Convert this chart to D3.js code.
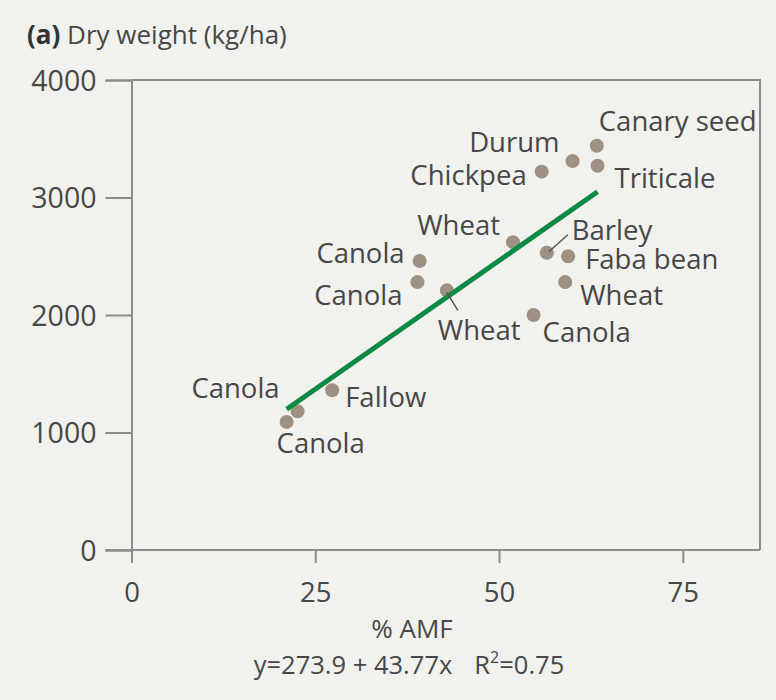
<!DOCTYPE html>
<html>
<head>
<meta charset="utf-8">
<script src="https://cdn.jsdelivr.net/npm/d3@7"></script>
<style>
  html, body { margin: 0; padding: 0; background: #f1f1ed; }
  svg { display: block; }
  text { font-family: "Open Sans", sans-serif; fill: #474747; }
</style>
</head>
<body>
<svg id="chart" width="776" height="700"></svg>
<script>
// Crop data: % AMF colonisation vs. dry weight
const crops   = ["Canary seed", "Triticale", "Durum", "Chickpea", "Wheat", "Barley",
                 "Faba bean", "Wheat", "Canola", "Canola", "Canola", "Wheat",
                 "Fallow", "Canola", "Canola"];
const amf     = [63.3, 63.4, 60.0, 55.8, 51.9, 56.5, 59.4, 59.0, 54.7, 39.2, 38.9, 42.9, 27.3, 21.1, 22.6];
const dryWt   = [3440, 3270, 3310, 3220, 2620, 2530, 2500, 2280, 2000, 2460, 2280, 2210, 1360, 1090, 1180];

const xTicks  = [0, 25, 50, 75];
const yTicks  = [0, 1000, 2000, 3000, 4000];

// Fitted regression
const intercept = 273.9;
const slope     = 43.77;
const r2        = 0.75;

// Label placement for each point: [dx, dy, anchor, leader]
const labelPlacement = [
  [2, -15, "start"], [17, 22, "start"], [-13, -9, "end"], [-15, 13, "end"],
  [-13, -7, "end"], [25, -13, "start", [2, -1, 21, -18]], [17, 13, "start"],
  [15, 23, "start"], [9, 27, "start"], [-15, 2, "end"], [-15, 23, "end"],
  [-9, 50, "start", [0, 2, 11, 20]], [13, 17, "start"], [-10, 31, "start"],
  [-18, -13, "end"]
];

const svg = d3.select("#chart");
const x = d3.scaleLinear().domain([0, 85.5]).range([131.5, 760]);
const y = d3.scaleLinear().domain([0, 4000]).range([550, 80]);

const axisColor = "#8c8c8c";

// frame (top and right)
svg.append("path")
  .attr("d", `M${x(0)},${y(4000)}H${x(85.5)}V${y(0)}`)
  .attr("fill", "none").attr("stroke", axisColor).attr("stroke-width", 2);

// y axis
const yAxis = svg.append("g").attr("transform", `translate(${x(0)},0)`)
  .call(d3.axisLeft(y).tickValues(yTicks).tickSize(26).tickPadding(9).tickFormat(d3.format("d")));
yAxis.select(".domain").attr("stroke", axisColor).attr("stroke-width", 2);
yAxis.selectAll(".tick line").attr("stroke", axisColor).attr("stroke-width", 2);
yAxis.selectAll(".tick text").attr("font-size", 28.5).attr("font-family", "Open Sans")
  .attr("fill", "#4d4d4d").attr("dy", "0.36em");

// x axis
const xAxis = svg.append("g").attr("transform", `translate(0,${y(0)})`)
  .call(d3.axisBottom(x).tickValues(xTicks).tickSize(13).tickPadding(19).tickFormat(d3.format("d")));
xAxis.select(".domain").remove();
xAxis.append("line").attr("x1", x(0) - 26).attr("x2", x(85.5))
  .attr("stroke", axisColor).attr("stroke-width", 2);
xAxis.selectAll(".tick line").attr("stroke", axisColor).attr("stroke-width", 2);
xAxis.selectAll(".tick text").attr("font-size", 27.5).attr("font-family", "Open Sans")
  .attr("fill", "#4d4d4d");

// points
const pts = amf.map((a, i) => ({ x: a, y: dryWt[i], name: crops[i], p: labelPlacement[i] }));
svg.append("g").selectAll("circle").data(pts).join("circle")
  .attr("cx", d => x(d.x)).attr("cy", d => y(d.y)).attr("r", 7)
  .attr("fill", "#9e9181");

// regression line across the observed range
const [xMin, xMax] = d3.extent(amf);
svg.append("line")
  .attr("x1", x(xMin)).attr("y1", y(intercept + slope * xMin))
  .attr("x2", x(xMax)).attr("y2", y(intercept + slope * xMax))
  .attr("stroke", "#0e8a45").attr("stroke-width", 5);

// leader lines
svg.append("g").selectAll("line").data(pts.filter(d => d.p[3])).join("line")
  .attr("x1", d => x(d.x) + d.p[3][0]).attr("y1", d => y(d.y) + d.p[3][1])
  .attr("x2", d => x(d.x) + d.p[3][2]).attr("y2", d => y(d.y) + d.p[3][3])
  .attr("stroke", "#555").attr("stroke-width", 1.5);

// point labels
svg.append("g").selectAll("text").data(pts).join("text")
  .attr("x", d => x(d.x) + d.p[0]).attr("y", d => y(d.y) + d.p[1])
  .attr("text-anchor", d => d.p[2])
  .attr("font-size", 27.5)
  .text(d => d.name);

// title
const title = svg.append("text").attr("x", 27).attr("y", 44).attr("font-size", 26);
title.append("tspan").attr("font-weight", "bold").attr("fill", "#333").text("(a)");
title.append("tspan").text(" Dry weight (kg/ha)");

// axis title and fit equation
svg.append("text").attr("x", 412).attr("y", 638).attr("text-anchor", "middle")
  .attr("font-size", 26).text("% AMF");
const eq = svg.append("text").attr("x", 409).attr("y", 674).attr("text-anchor", "middle")
  .attr("font-size", 25.5);
eq.append("tspan").text(`y=${intercept} + ${slope}x`);
eq.append("tspan").attr("dx", 22).text("R");
eq.append("tspan").attr("font-size", 16).attr("dy", -11).text("2");
eq.append("tspan").attr("dy", 11).text(`=${r2}`);
</script>
</body>
</html>
